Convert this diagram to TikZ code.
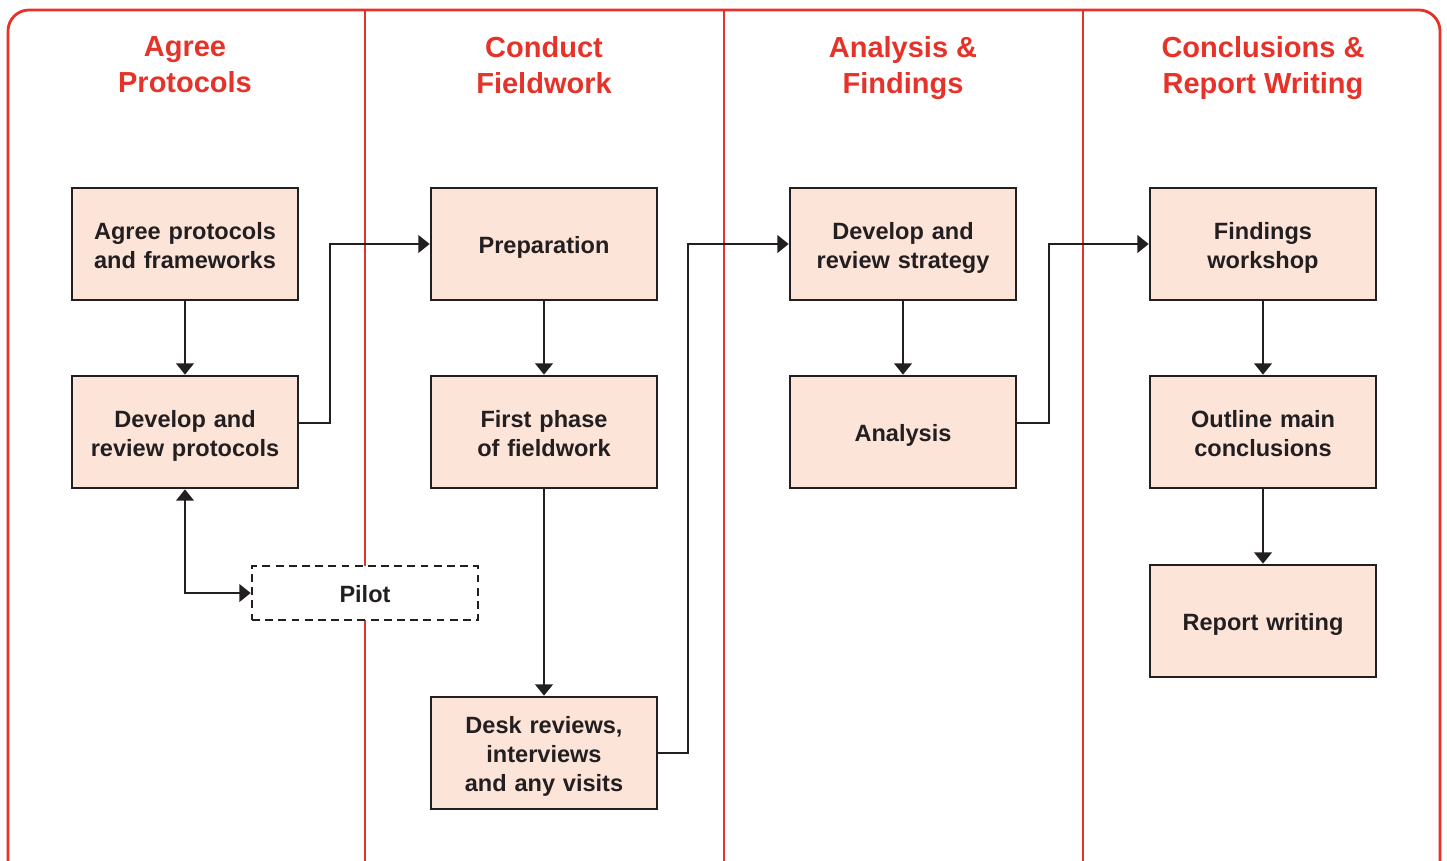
\documentclass[tikz,border=0pt]{standalone}
\usepackage{fontspec}
\setmainfont{Liberation Sans}
\usetikzlibrary{arrows.meta}

\definecolor{framered}{HTML}{E5332A}
\definecolor{boxfill}{HTML}{FCE4D9}
\definecolor{inkdark}{HTML}{231F20}

\tikzset{
    stage/.style={draw=inkdark, line width=1.5pt, fill=boxfill, minimum width=4.52cm,
        minimum height=2.24cm, text width=4.2cm, align=center, text=inkdark,
        font=\fontsize{13.4}{16.4}\selectfont\bfseries,
        execute at begin node={\rule{0pt}{14pt}},
        execute at end node={\rule[-3pt]{0pt}{0pt}}},
    pilotbox/.style={stage, fill=white, dash pattern=on 4.5pt off 3pt, minimum height=1.08cm},
    heading/.style={anchor=north, align=center, text=framered,
        font=\fontsize{16.5}{20.4}\selectfont\bfseries},
    flow/.style={draw=inkdark, line width=1.5pt, -{Triangle[length=6.5pt,width=10pt]}},
}

\begin{document}
\begin{tikzpicture}[x=0.02cm, y=-0.02cm]
    \useasboundingbox (0,0) rectangle (1447,860);
    \clip (0,0) rectangle (1447,860);

    % frame and lanes
    \draw[framered, line width=1.6pt, rounded corners=0.42cm] (8,10) rectangle (1440,885);
    \foreach \lx in {365,724,1083}
        \draw[framered, line width=1.3pt] (\lx,10) -- (\lx,870);

    % headings
    \node[heading] (h1) at (185,30.5) {Agree\\Protocols};
    \node[heading] (h2) at (544,30.5) {Conduct\\Fieldwork};
    \node[heading] (h3) at (903,30.5) {Analysis \&\\Findings};
    \node[heading] (h4) at (1263,30.5) {Conclusions \&\\Report Writing};

    % lane 1
    \node[stage] (agree) at (185,244) {Agree protocols\\and frameworks};
    \node[stage] (develop) at (185,432) {Develop and\\review protocols};
    \node[pilotbox] (pilot) at (365,593) {Pilot};

    % lane 2
    \node[stage] (prep) at (544,244) {Preparation};
    \node[stage] (first) at (544,432) {First phase\\of fieldwork};
    \node[stage] (desk) at (544,753) {Desk reviews,\\interviews\\and any visits};

    % lane 3
    \node[stage] (strategy) at (903,244) {Develop and\\review strategy};
    \node[stage] (analysis) at (903,432) {Analysis};

    % lane 4
    \node[stage] (workshop) at (1263,244) {Findings\\workshop};
    \node[stage] (outline) at (1263,432) {Outline main\\conclusions};
    \node[stage] (report) at (1263,621) {Report writing};

    % connectors
    \draw[flow] (agree) -- (develop);
    \draw[flow] (develop.east |- 0,423) -- (330,423) |- (prep.west);
    \draw[flow, {Triangle[length=6.5pt,width=10pt]}-{Triangle[length=6.5pt,width=10pt]}] (develop.south) |- (pilot.west);

    \draw[flow] (prep) -- (first);
    \draw[flow] (first) -- (desk);
    \draw[flow] (desk.east) -- (688,753) |- (strategy.west);

    \draw[flow] (strategy) -- (analysis);
    \draw[flow] (analysis.east |- 0,423) -- (1049,423) |- (workshop.west);

    \draw[flow] (workshop) -- (outline);
    \draw[flow] (outline) -- (report);
\end{tikzpicture}
\end{document}
